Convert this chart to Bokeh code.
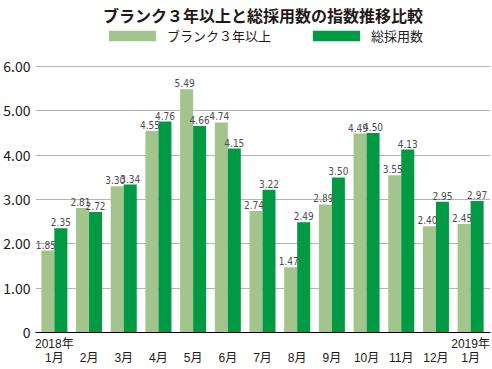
from bokeh.plotting import figure
from bokeh.models import ColumnDataSource, Range1d, Legend, LegendItem, FixedTicker
from bokeh.transform import dodge
from bokeh.embed import file_html
from bokeh.resources import INLINE

title = "ブランク３年以上と総採用数の指数推移比較"
series_names = ["ブランク３年以上", "総採用数"]
months = ["1月", "2月", "3月", "4月", "5月", "6月", "7月", "8月", "9月", "10月", "11月", "12月", "1月"]
year_marks = {0: "2018年", 12: "2019年"}
blank3 = [1.85, 2.81, 3.30, 4.55, 5.49, 4.74, 2.74, 1.47, 2.89, 4.49, 3.55, 2.40, 2.45]
total = [2.35, 2.72, 3.34, 4.76, 4.66, 4.15, 3.22, 2.49, 3.50, 4.50, 4.13, 2.95, 2.97]
y_ticks = [0, 1, 2, 3, 4, 5, 6]

LIGHT = "#A3C48C"
DARK = "#009944"
TXT = "#231815"
LBL = "#4d4d4d"
FONT = "Noto Sans CJK JP"
NUMFONT = "'Liberation Sans Narrow', 'DejaVu Sans Condensed', 'Noto Sans', sans-serif"
XFONT = "'Liberation Sans', 'Noto Sans CJK JP', sans-serif"

xs = list(range(len(months)))
src = ColumnDataSource(dict(
    x=xs, blank3=blank3, total=total,
    blank3_lbl=[f"{v:.2f}" for v in blank3],
    total_lbl=[f"{v:.2f}" for v in total],
))

p = figure(width=492, height=369, output_backend="svg", toolbar_location=None,
           x_range=Range1d(-0.544, 12.573), y_range=Range1d(0, 6.906),
           min_border_left=32, min_border_right=2, min_border_top=0, min_border_bottom=37)
p.outline_line_color = None
p.background_fill_color = "white"
p.border_fill_color = "white"

bw = 0.375
r1 = p.vbar(x=dodge("x", -bw / 2, range=p.x_range), top="blank3", width=bw, source=src,
            fill_color=LIGHT, line_color=None)
r2 = p.vbar(x=dodge("x", bw / 2, range=p.x_range), top="total", width=bw, source=src,
            fill_color=DARK, line_color=None)

p.text(x=dodge("x", -bw / 2, range=p.x_range), y="blank3", text="blank3_lbl", source=src,
       text_align="center", text_baseline="bottom", y_offset=-2, x_offset=-2,
       text_font_size="10px", text_color=LBL, text_font={"value": NUMFONT})
p.text(x=dodge("x", bw / 2, range=p.x_range), y="total", text="total_lbl", source=src,
       text_align="center", text_baseline="bottom", y_offset=-2,
       text_font_size="10px", text_color=LBL, text_font={"value": NUMFONT})

# title
p.title.text = title
p.title.align = "center"
p.title.text_font = FONT
p.title.text_font_size = "16px"
p.title.text_font_style = "bold"
p.title.text_color = TXT
p.title.standoff = 0

legend = Legend(items=[LegendItem(label=series_names[0], renderers=[r1]),
                       LegendItem(label=series_names[1], renderers=[r2])],
                orientation="horizontal", location="top_center",
                glyph_width=59, glyph_height=13, label_text_font_size="13px",
                label_text_font=FONT, label_text_color=TXT, label_height=13,
                spacing=35, label_standoff=6, padding=0, margin=0,
                border_line_color=None, background_fill_alpha=0)
p.add_layout(legend)

# axes
p.xgrid.grid_line_color = None
p.ygrid.grid_line_color = "#b5b5b5"
p.ygrid.grid_line_width = 1

p.yaxis.ticker = FixedTicker(ticks=y_ticks)
p.yaxis.major_label_overrides = {t: ("0" if t == 0 else f"{t:.2f}") for t in y_ticks}
p.yaxis.axis_line_color = None
p.yaxis.major_tick_line_color = None
p.yaxis.minor_tick_line_color = None
p.yaxis.major_tick_out = 0
p.yaxis.major_tick_in = 0
p.yaxis.major_label_text_font_size = "14px"
p.yaxis.major_label_text_font = FONT
p.yaxis.major_label_text_color = TXT
p.yaxis.major_label_standoff = 5

p.xaxis.ticker = FixedTicker(ticks=xs)
p.xaxis.major_label_overrides = {i: (year_marks[i] + "\n" + m if i in year_marks else " \n" + m)
                                 for i, m in enumerate(months)}
p.xaxis.axis_line_color = "black"
p.xaxis.axis_line_width = 1
p.xaxis.major_tick_line_color = None
p.xaxis.minor_tick_line_color = None
p.xaxis.major_tick_out = 0
p.xaxis.major_tick_in = 0
p.xaxis.axis_label_standoff = 0
p.xaxis.major_label_text_font_size = "12px"
p.xaxis.major_label_text_font = XFONT
p.xaxis.major_label_text_color = TXT
p.xaxis.major_label_text_line_height = 1.05
p.xaxis.major_label_standoff = 4

open("out.html", "w").write(file_html(p, INLINE))
